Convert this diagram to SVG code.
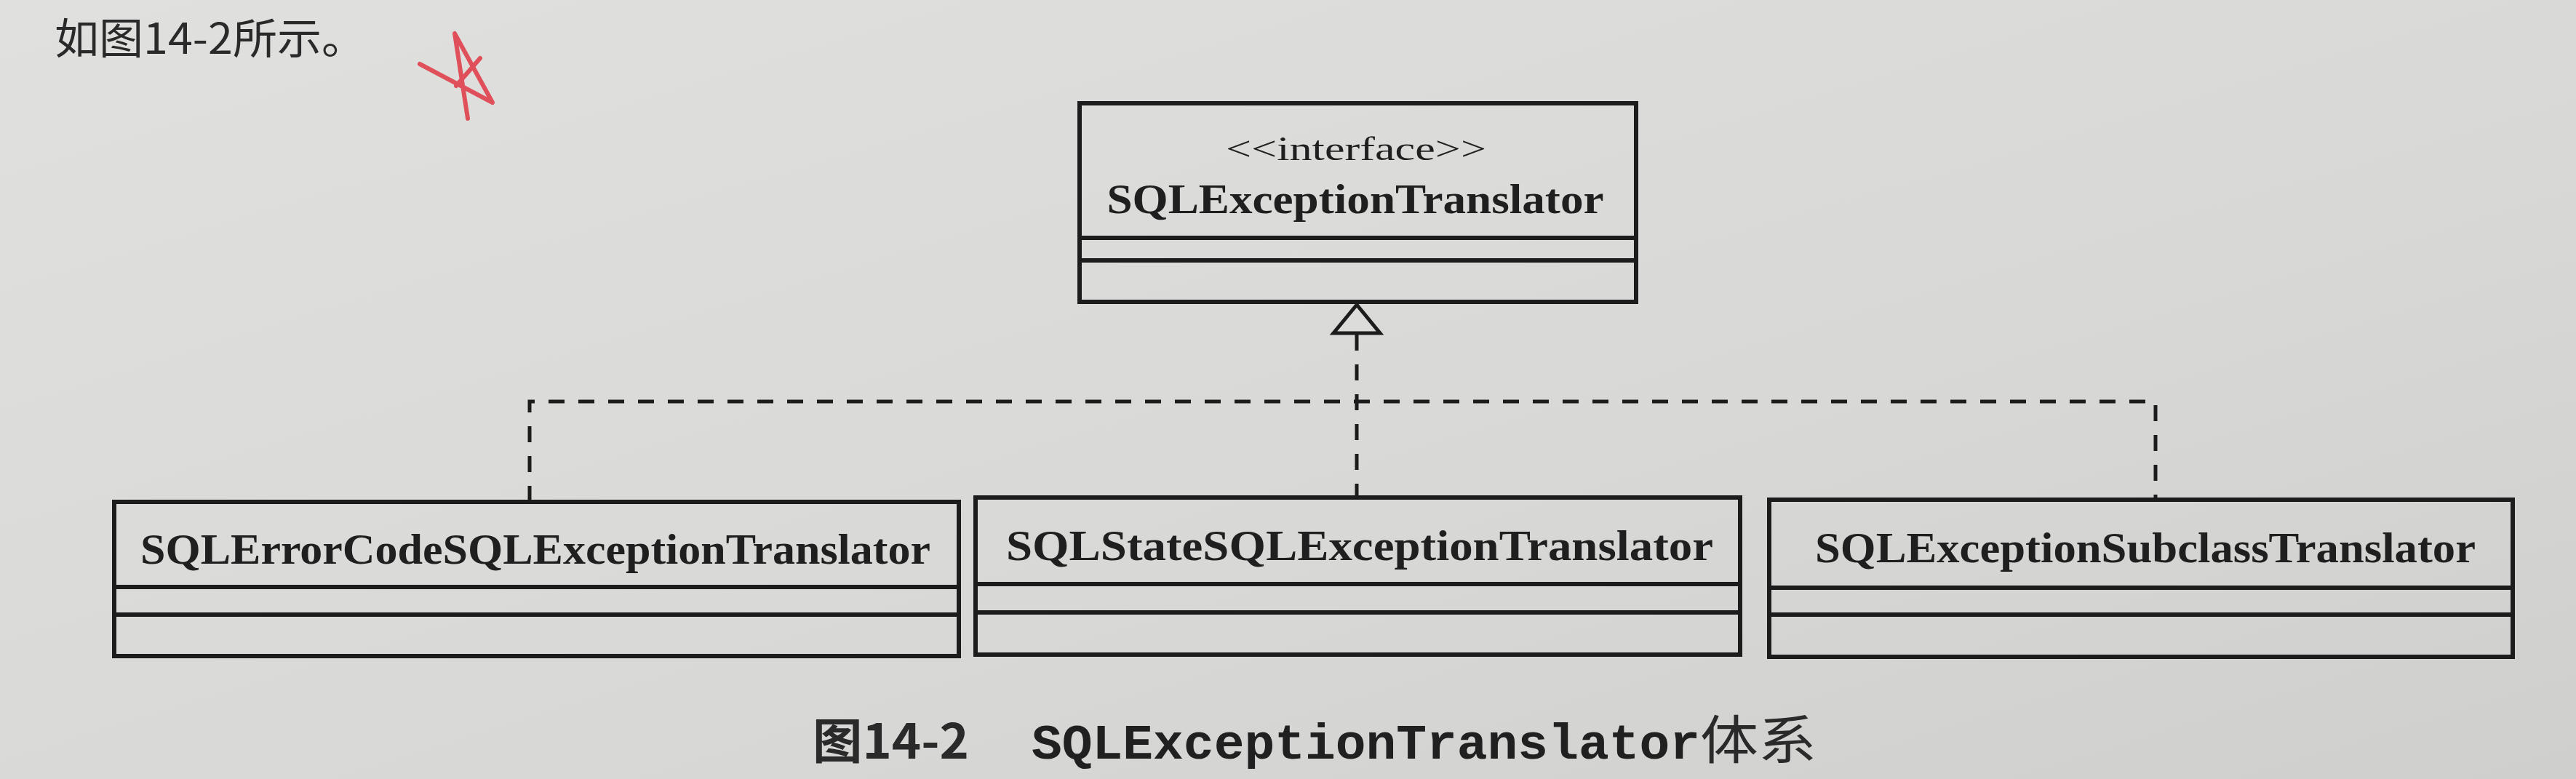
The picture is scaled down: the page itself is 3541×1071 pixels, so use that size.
<svg xmlns="http://www.w3.org/2000/svg" width="3541" height="1071" viewBox="0 0 3541 1071">
  <defs>
    <linearGradient id="bg" x1="0" y1="0" x2="1" y2="1">
      <stop offset="0" stop-color="#e0e0de"/>
      <stop offset="0.6" stop-color="#d8d8d6"/>
      <stop offset="1" stop-color="#cfcfcd"/>
    </linearGradient>
  </defs>
  <style>
    .box { fill: none; stroke: #1c1c1c; stroke-width: 6; }
    .sep { stroke: #1c1c1c; stroke-width: 6; }
    .cls { font-family: "Liberation Serif", "Times New Roman", serif; font-weight: bold; fill: #1f1f1f; text-anchor: middle; }
    .stereo { font-family: "Liberation Serif", "Times New Roman", serif; fill: #1f1f1f; text-anchor: middle; }
    .dash { fill: none; stroke: #1c1c1c; stroke-width: 5; stroke-dasharray: 22 19; }
    .tri { fill: #dcdcda; stroke: #1c1c1c; stroke-width: 5; stroke-linejoin: miter; }
    .cjk { font-family: "Noto Sans CJK SC", "Noto Sans", sans-serif; fill: #2a2a2a; }
    .mono { font-family: "Liberation Mono", "Courier New", monospace; fill: #202020; }
  </style>
  <rect x="0" y="0" width="3541" height="1071" fill="url(#bg)"/>

  <text class="cjk" x="75" y="74" font-size="58" textLength="428" lengthAdjust="spacingAndGlyphs">如图14-2所示。</text>
  <path d="M577,88 L677,141 L625,46 L643,163 M660,80 L627,118" fill="none" stroke="#e0505a" stroke-width="6" stroke-linecap="round" stroke-linejoin="round"/>

  <g id="connectors">
    <path class="dash" d="M728,690 L728,552 L2963,552 L2963,687"/>
    <path class="dash" d="M1865,460 L1865,683"/>
    <polygon class="tri" points="1865,419 1833,458 1897,458"/>
  </g>

  <g id="SQLExceptionTranslator">
    <rect class="box" x="1484" y="142" width="765" height="273"/>
    <line class="sep" x1="1484" y1="327" x2="2249" y2="327"/>
    <line class="sep" x1="1484" y1="358" x2="2249" y2="358"/>
    <text class="stereo" x="1864" y="220" font-size="46" textLength="358" lengthAdjust="spacingAndGlyphs">&lt;&lt;interface&gt;&gt;</text>
    <text class="cls" x="1863" y="293" font-size="56" textLength="683" lengthAdjust="spacingAndGlyphs">SQLExceptionTranslator</text>
  </g>

  <g id="SQLErrorCodeSQLExceptionTranslator">
    <rect class="box" x="157" y="690" width="1161" height="212"/>
    <line class="sep" x1="157" y1="807" x2="1318" y2="807"/>
    <line class="sep" x1="157" y1="845" x2="1318" y2="845"/>
    <text class="cls" x="736" y="775" font-size="60" textLength="1086" lengthAdjust="spacingAndGlyphs" fill="#333">SQLErrorCodeSQLExceptionTranslator</text>
  </g>

  <g id="SQLStateSQLExceptionTranslator">
    <rect class="box" x="1341" y="684" width="1051" height="216"/>
    <line class="sep" x1="1341" y1="803" x2="2392" y2="803"/>
    <line class="sep" x1="1341" y1="842" x2="2392" y2="842"/>
    <text class="cls" x="1869" y="770" font-size="60" textLength="972" lengthAdjust="spacingAndGlyphs">SQLStateSQLExceptionTranslator</text>
  </g>

  <g id="SQLExceptionSubclassTranslator">
    <rect class="box" x="2432" y="687" width="1022" height="216"/>
    <line class="sep" x1="2432" y1="808" x2="3454" y2="808"/>
    <line class="sep" x1="2432" y1="845" x2="3454" y2="845"/>
    <text class="cls" x="2949" y="773" font-size="60" textLength="908" lengthAdjust="spacingAndGlyphs">SQLExceptionSubclassTranslator</text>
  </g>

  <text class="cjk" x="1117" y="1043" font-size="66" font-weight="bold" textLength="215" lengthAdjust="spacingAndGlyphs">图14-2</text>
  <text class="mono" x="1418" y="1043" font-size="68" font-weight="bold" textLength="919" lengthAdjust="spacingAndGlyphs">SQLExceptionTranslator</text>
  <text class="cjk" x="2337" y="1043" font-size="72" textLength="160" lengthAdjust="spacingAndGlyphs">体系</text>
</svg>
